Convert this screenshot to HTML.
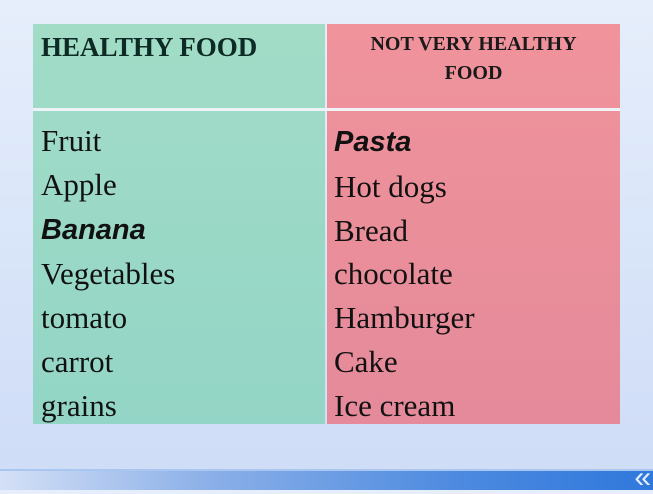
<!DOCTYPE html>
<html><head><style>
body{margin:0;width:653px;height:490px;overflow:hidden;background:linear-gradient(180deg,#e6eefb 0%,#d6e3f8 60%,#cfdcf7 100%);font-family:"Liberation Serif",serif;position:relative}
.t{position:absolute;left:33px;top:24px;width:587px;height:400px}
.c{position:absolute;top:0;height:100%}
.l{left:0;width:292px;background:linear-gradient(180deg,#a2dcc7,#93d5c6)}
.r{left:294px;width:293px;background:linear-gradient(180deg,#f0939b,#e48a9a)}
.sep{position:absolute;left:0;top:84px;width:587px;height:3px;background:#eef3f8}
.h1{position:absolute;left:8px;top:8px;font-weight:bold;font-size:27px;color:#0d2a24}
.h2{position:absolute;left:294px;width:293px;top:6px;text-align:center;font-weight:bold;font-size:20px;line-height:29px;color:#1a1a1a}
.list{position:absolute;top:95px;font-size:31px;line-height:43.8px;color:#111}
.bi{font-family:"Liberation Sans",sans-serif;font-weight:bold;font-style:italic;font-size:29px}
</style></head><body>
<div class="t">
<div class="c l"></div><div class="c r"></div><div class="sep"></div>
<div class="h1">HEALTHY FOOD</div>
<div class="h2">NOT VERY HEALTHY<br>FOOD</div>
<div class="list" style="left:8px">Fruit<br>Apple<br><span class="bi">Banana</span><br>Vegetables<br>tomato<br>carrot<br>grains</div>
<div class="list" style="left:301px"><span class="bi">Pasta</span><br>Hot dogs<br>Bread<br>chocolate<br>Hamburger<br>Cake<br>Ice cream</div>
</div>
<div style="position:absolute;left:0;top:469px;width:653px;height:21px;background:linear-gradient(90deg,#d4e0f6 0%,#8fb2e8 30%,#4d8ae0 70%,#2f78dc 100%)"></div>
<div style="position:absolute;left:0;top:469px;width:653px;height:2px;background:#a9c6f0"></div>
<div style="position:absolute;right:2px;top:465px;font-size:30px;line-height:26px;color:#e6eefc;font-family:'Liberation Sans',sans-serif">«</div>
</body></html>
